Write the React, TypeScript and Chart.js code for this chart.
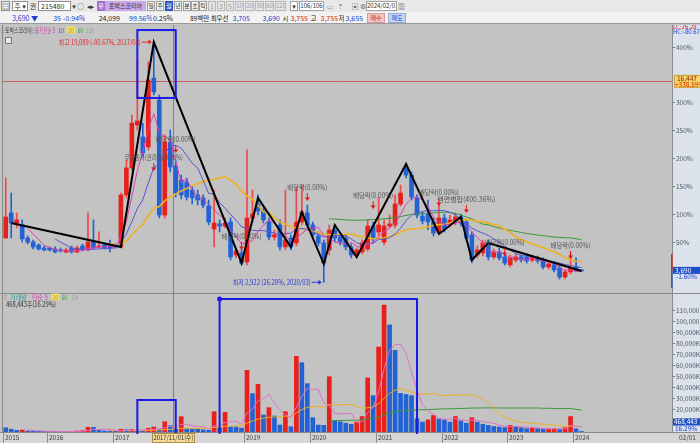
import { useEffect, useRef } from "react";
import { Chart, registerables } from "chart.js";

Chart.register(...registerables);

const FONT = '"Noto Sans CJK KR", "Noto Sans", "DejaVu Sans", sans-serif';
const BASE_PRICE = 3750;
const START_YEAR = 2015;
const START_MONTH = 5;
const PAD_SLOTS = 16;
const PRICE_MIN = 2200;
const PRICE_MAX = 20240;
const VOL_MAX = 126000;

const opens = [5900, 7590, 6910, 6780, 5900, 5630, 5430, 5230, 5230, 5160,
  5100, 4960, 5230, 4960, 5370, 5100, 5630, 5300, 5430, 5430,
  5430, 5300, 8800, 10620, 13510, 12700, 12030, 16670, 15190, 7450,
  12360, 10750, 9810, 9670, 9130, 8800, 8600, 8060, 6510, 6850,
  6710, 6980, 4760, 4890, 4290, 7250, 8190, 7720, 6980, 5970,
  6780, 5300, 5900, 5570, 6980, 7590, 6780, 6040, 5570, 5100,
  6440, 5970, 5900, 5300, 4760, 4960, 5160, 6710, 6310, 5630,
  6710, 6780, 8190, 10620, 10140, 8600, 7380, 7520, 6980, 6310,
  7250, 6850, 6980, 7320, 6980, 6110, 4760, 4890, 5570, 4630,
  4960, 4630, 4090, 4420, 4630, 4630, 4420, 4560, 4420, 3950,
  4090, 3890, 3280, 3620, 3950, 3755];
const highs = [9940, 8930, 7590, 7120, 6040, 5770, 5500, 5370, 5300, 5300,
  5230, 5230, 5370, 5370, 5500, 7590, 7120, 6310, 5570, 5770,
  5500, 8930, 11150, 14180, 17750, 13640, 17750, 19089, 15530, 12840,
  13170, 11150, 10140, 9940, 9400, 9130, 8800, 8460, 9130, 7120,
  7250, 7250, 5230, 5100, 11830, 9130, 8800, 7920, 7250, 6440,
  7120, 9130, 6110, 9340, 9470, 8120, 6980, 6310, 5770, 6780,
  6780, 6240, 6110, 5500, 5230, 5770, 7120, 6980, 8600, 7120,
  7450, 8800, 9470, 10880, 10350, 8800, 7650, 8460, 7250, 8260,
  7520, 7450, 7590, 7520, 7120, 6310, 5370, 5770, 5770, 5160,
  5230, 4830, 4760, 4830, 4760, 4830, 4760, 4690, 4560, 4290,
  4290, 4090, 3750, 4890, 4560, 3755];
const lows = [5880, 5900, 6580, 5630, 5500, 5160, 5100, 5030, 5030, 4890,
  4960, 4890, 4890, 4890, 5030, 5030, 5160, 5230, 5160, 4960,
  5230, 5230, 8600, 10480, 13170, 11360, 11830, 15530, 7250, 7250,
  10350, 8660, 8530, 8460, 8190, 8120, 7920, 6780, 5300, 6310,
  6580, 4420, 4560, 4090, 4090, 6980, 7450, 6910, 5770, 5770,
  5100, 5100, 5100, 5370, 6780, 6580, 5900, 5370, 2922, 4760,
  5630, 5430, 5100, 4560, 4560, 4830, 5030, 5630, 6040, 5430,
  6580, 6580, 8060, 9940, 8460, 7250, 6850, 6440, 6040, 6170,
  6310, 6640, 6780, 6710, 5700, 4220, 4560, 4690, 4420, 4490,
  4420, 4090, 3950, 4290, 4290, 4220, 4290, 4220, 3820, 3820,
  3620, 3140, 3140, 3480, 3620, 3655];
const closes = [7320, 6910, 7120, 5840, 5630, 5300, 5160, 5100, 5100, 4960,
  5030, 5100, 4960, 5230, 5100, 5630, 5230, 5370, 5230, 5230,
  5300, 8800, 10620, 13640, 13780, 11620, 16540, 15730, 7450, 12360,
  10680, 8930, 8800, 8660, 8600, 8460, 8120, 6980, 6910, 6710,
  6910, 4630, 5030, 4220, 7250, 7520, 7720, 7120, 5970, 6110,
  5300, 5770, 5300, 6980, 7650, 6780, 6110, 5570, 4220, 6440,
  5900, 5630, 5300, 4760, 5100, 5570, 6710, 5840, 6780, 6710,
  6850, 8190, 8930, 10140, 8660, 7450, 7050, 6980, 6240, 7250,
  6510, 7120, 7320, 6910, 5900, 4420, 5100, 5570, 4630, 4960,
  4560, 4220, 4560, 4630, 4420, 4360, 4630, 4360, 3950, 4150,
  3750, 3280, 3620, 3890, 3725, 3690];
// monthly volume, thousand shares
const volumes = [3900, 2500, 1500, 1800, 900, 700, 600, 500, 400, 500,
  400, 600, 500, 900, 1200, 4300, 4200, 1500, 900, 800,
  600, 2500, 2000, 2300, 1500, 1200, 3300, 4500, 2500, 9300,
  5700, 3000, 13900, 3000, 2800, 2600, 2000, 1500, 18400, 3800,
  17800, 4800, 4600, 3500, 55900, 34700, 43200, 15400, 22000, 14500,
  6300, 18400, 4800, 68600, 62800, 43800, 13000, 6300, 6000, 50100,
  10000, 9300, 8000, 7000, 9000, 14000, 49000, 33000, 77000, 115000,
  97000, 74000, 35000, 34000, 33000, 12000, 9000, 11000, 15000, 12000,
  11000, 9000, 14000, 10000, 8000, 13000, 9000, 7000, 6000, 5000,
  4500, 4000, 6000, 5000, 4000, 3000, 3500, 3000, 2500, 2800,
  3000, 2500, 4000, 14000, 2876, 468.443];

const zigIdx = [1, 21, 27, 43, 46, 52, 54, 58, 60, 64, 73, 79, 83, 85, 88, 105];
const zigVal = [6910, 5300, 19089, 4220, 8600, 5300, 7650, 4150, 6780, 4620, 10880, 6170, 7320, 4420, 5570, 3680];

const eventNames = ["무상증자(권리락)(0.00%)", "배당락(0.00%)", "배당락(0.00%)", "배당락(0.00%)", "배당락(0.00%)", "배당락(0.00%)", "액면병합(400.36%)", "배당락(0.00%)", "배당락(0.00%)"];
const eventIdx = [27, 31, 43, 55, 67, 79, 84, 91, 103];
const eventPrice = [10680, 11890, 5370, 8660, 8120, 8330, 7850, 4960, 4760];

const pctTicks = [50, 100, 150, 200, 250, 300, 400];
const volTicks = [10000, 20000, 30000, 40000, 50000, 60000, 70000, 80000, 90000, 100000, 110000];

const crossIdx = 30;
const crossPrice = 16447;

const RED = "#e8201c";
const RED_WICK = "#ee4a48";
const BLUE = "#2262d4";
const PANEL_BG = "#c3c3c3";
const AXIS_BG = "#dbe2eb";

const monthLabels: string[] = opens.map((_, k) => {
  const m = START_MONTH - 1 + k;
  const y = START_YEAR + Math.floor(m / 12);
  const mm = (m % 12) + 1;
  return `${y}/${String(mm).padStart(2, "0")}`;
});
const slotLabels = [...monthLabels, ...Array.from({ length: PAD_SLOTS }, (_, k) => `pad${k}`)];

function sma(src: number[], n: number): (number | null)[] {
  return src.map((_, i) => {
    if (i < n - 1) return null;
    let s = 0;
    for (let k = i - n + 1; k <= i; k++) s += src[k];
    return s / n;
  });
}
const fmt = (n: number) => n.toLocaleString("en-US");

function arrowDown(ctx: any, x: number, y: number, color: string) {
  ctx.save();
  ctx.strokeStyle = color;
  ctx.fillStyle = color;
  ctx.lineWidth = 1;
  ctx.beginPath();
  ctx.moveTo(x, y - 4);
  ctx.lineTo(x, y + 1);
  ctx.stroke();
  ctx.beginPath();
  ctx.moveTo(x - 2.5, y + 0.5);
  ctx.lineTo(x + 2.5, y + 0.5);
  ctx.lineTo(x, y + 4);
  ctx.closePath();
  ctx.fill();
  ctx.restore();
}
function arrowRight(ctx: any, x0: number, x1: number, y: number, color: string) {
  ctx.save();
  ctx.strokeStyle = color;
  ctx.fillStyle = color;
  ctx.lineWidth = 1;
  ctx.beginPath();
  ctx.moveTo(x0, y);
  ctx.lineTo(x1 - 3, y);
  ctx.stroke();
  ctx.beginPath();
  ctx.moveTo(x1 - 3.5, y - 2.5);
  ctx.lineTo(x1, y);
  ctx.lineTo(x1 - 3.5, y + 2.5);
  ctx.closePath();
  ctx.fill();
  ctx.restore();
}
function crossX(chart: any) {
  const x = chart.scales.x;
  return Math.round((x.getPixelForValue(crossIdx) + x.getPixelForValue(crossIdx + 1)) / 2) + 0.5;
}
function fitText(ctx: any, t: string, x: number, y: number, w: number) {
  const m = ctx.measureText(t).width;
  if (m > w) ctx.fillText(t, x, y, w);
  else ctx.fillText(t, x, y);
}

const mainPlugin = {
  id: "mainDecor",
  beforeDraw(chart: any) {
    const { ctx, chartArea: a, width, height } = chart;
    ctx.save();
    ctx.fillStyle = PANEL_BG;
    ctx.fillRect(0, 0, a.right, height);
    ctx.fillStyle = AXIS_BG;
    ctx.fillRect(a.right, 0, width - a.right, height);
    ctx.strokeStyle = "#8a8a8a";
    ctx.beginPath();
    ctx.moveTo(a.left - 0.5, 0);
    ctx.lineTo(a.left - 0.5, height);
    ctx.stroke();
    ctx.restore();
  },
  beforeDatasetsDraw(chart: any) {
    const { ctx, chartArea: a, scales } = chart;
    ctx.save();
    ctx.strokeStyle = "#c86060";
    ctx.lineWidth = 1;
    const cy = Math.round(scales.y.getPixelForValue(crossPrice)) + 0.5;
    ctx.beginPath();
    ctx.moveTo(a.left, cy);
    ctx.lineTo(a.right, cy);
    ctx.stroke();
    const cx = crossX(chart);
    ctx.beginPath();
    ctx.moveTo(cx, a.top);
    ctx.lineTo(cx, a.bottom);
    ctx.stroke();
    ctx.restore();
  },
  afterDatasetsDraw(chart: any) {
    const { ctx, scales } = chart;
    const px = (i: number) => scales.x.getPixelForValue(i);
    const py = (p: number) => scales.y.getPixelForValue(p);
    ctx.save();
    ctx.strokeStyle = "#1a1ae6";
    ctx.lineWidth = 2;
    const bx0 = px(24), bx1 = px(31), by0 = py(19900), by1 = py(15330);
    ctx.strokeRect(bx0, by0, bx1 - bx0, by1 - by0);
    ctx.font = `7px ${FONT}`;
    ctx.textAlign = "center";
    ctx.textBaseline = "middle";
    eventNames.forEach((name, k) => {
      const x = px(eventIdx[k]);
      const y = py(eventPrice[k]);
      arrowDown(ctx, x, y, "#e01818");
      ctx.fillStyle = "#555555";
      fitText(ctx, name, x, y - 10, name.length > 12 ? 58 : 40);
    });
    let hiIdx = 0, loIdx = 0;
    highs.forEach((h, i) => { if (h > highs[hiIdx]) hiIdx = i; });
    lows.forEach((l, i) => { if (l < lows[loIdx]) loIdx = i; });
    const last = closes[closes.length - 1];
    const hiPct = ((last / highs[hiIdx] - 1) * 100).toFixed(2);
    const loPct = ((last / lows[loIdx] - 1) * 100).toFixed(2);
    const hx = px(hiIdx), hy = py(highs[hiIdx]);
    ctx.textAlign = "right";
    ctx.fillStyle = "#e02828";
    fitText(ctx, `최고 ${fmt(highs[hiIdx])} (${hiPct}%, ${monthLabels[hiIdx]})`, hx - 13, hy, 82);
    arrowRight(ctx, hx - 12, hx - 2, hy, "#e02828");
    const lx = px(loIdx), ly = py(lows[loIdx]);
    ctx.fillStyle = "#2838d8";
    fitText(ctx, `최저 ${fmt(lows[loIdx])} (${loPct}%, ${monthLabels[loIdx]})`, lx - 13, ly, 78);
    arrowRight(ctx, lx - 12, lx - 2, ly, "#2838d8");
    ctx.restore();
  },
  afterDraw(chart: any) {
    const { ctx, chartArea: a, scales, width } = chart;
    const py = (p: number) => scales.y.getPixelForValue(p);
    ctx.save();
    ctx.textBaseline = "middle";
    ctx.textAlign = "left";
    ctx.font = `7px ${FONT}`;
    const leg: [string, number, number, string][] = [
      ["≡", 1, 3, "#707070"], ["토박스코리아", 5, 27, "#404040"], ["≡", 32, 3, "#707070"], ["종가 단순 5", 35, 20, "#d43cb0"],
      ["10", 58, 6, "#4848d8"], ["20", 68, 6, "#d89000"], ["60", 78, 5, "#2f9a2f"], ["120", 86, 8, "#9a9a9a"],
    ];
    ctx.fillStyle = "#e8e070";
    ctx.fillRect(66.5, 1.5, 9, 7);
    leg.forEach(([t, x, w, c]) => { ctx.fillStyle = c; fitText(ctx, t, x, 5.5, w); });
    ctx.fillStyle = "#e8e8e8";
    ctx.strokeStyle = "#7a7a7a";
    ctx.lineWidth = 1;
    ctx.fillRect(5.5, 12.5, 6, 6);
    ctx.strokeRect(5.5, 12.5, 6, 6);
    const last = closes[closes.length - 1];
    let hi = 0, lo = 0;
    highs.forEach((h, i) => { if (h > highs[hi]) hi = i; });
    lows.forEach((l, i) => { if (l < lows[lo]) lo = i; });
    ctx.font = `6px ${FONT}`;
    ctx.fillStyle = "#e02020";
    ctx.fillText(`LC:${((last / lows[lo] - 1) * 100).toFixed(2)}`, a.right + 1, 2);
    ctx.fillStyle = "#2040d0";
    ctx.fillText(`HC:${((last / highs[hi] - 1) * 100).toFixed(2)}`, a.right + 1, 6.5);
    const cy = py(crossPrice);
    ctx.fillStyle = "#f6d468";
    ctx.strokeStyle = "#c8a040";
    ctx.fillRect(a.right + 2, cy - 6.5, width - a.right - 2, 13);
    ctx.strokeRect(a.right + 2.5, cy - 6, width - a.right - 2, 12);
    ctx.font = `6.5px ${FONT}`;
    ctx.fillStyle = "#8a2000";
    ctx.fillText(fmt(crossPrice), a.right + 5, cy - 3);
    ctx.fillStyle = "#e02000";
    ctx.fillText(`+${((crossPrice / BASE_PRICE - 1) * 100).toFixed(2)}%`, a.right + 3, cy + 3);
    const ly = py(last);
    ctx.fillStyle = RED;
    ctx.fillRect(a.right - 1, ly - 17, 1.5, 17);
    ctx.fillStyle = BLUE;
    ctx.fillRect(a.right - 1, ly, 1.5, 17);
    ctx.fillStyle = "#1f4fc8";
    ctx.fillRect(a.right + 1, ly - 4, width - a.right - 1, 7);
    ctx.fillStyle = "#ffffff";
    ctx.fillText(fmt(last), a.right + 3, ly - 0.5);
    ctx.fillStyle = "#2040d0";
    ctx.fillText(`${((last / BASE_PRICE - 1) * 100).toFixed(2)}%`, a.right + 4, ly + 6);
    ctx.restore();
  },
};

const volPlugin = {
  id: "volDecor",
  beforeDraw(chart: any) {
    const { ctx, chartArea: a, width, height } = chart;
    ctx.save();
    ctx.fillStyle = PANEL_BG;
    ctx.fillRect(0, 0, a.right, a.bottom);
    ctx.fillStyle = AXIS_BG;
    ctx.fillRect(a.right, 0, width - a.right, a.bottom);
    ctx.fillStyle = "#d6d6d6";
    ctx.fillRect(0, a.bottom, width, height - a.bottom);
    ctx.strokeStyle = "#8a8a8a";
    ctx.lineWidth = 1;
    ctx.beginPath();
    ctx.moveTo(0, 0.5);
    ctx.lineTo(width, 0.5);
    ctx.moveTo(0, a.bottom + 0.5);
    ctx.lineTo(width, a.bottom + 0.5);
    ctx.moveTo(a.left - 0.5, 0);
    ctx.lineTo(a.left - 0.5, a.bottom);
    ctx.stroke();
    ctx.restore();
  },
  beforeDatasetsDraw(chart: any) {
    const { ctx, chartArea: a } = chart;
    ctx.save();
    ctx.strokeStyle = "#c86060";
    ctx.lineWidth = 1;
    const cx = crossX(chart);
    ctx.beginPath();
    ctx.moveTo(cx, a.top);
    ctx.lineTo(cx, a.bottom);
    ctx.stroke();
    ctx.restore();
  },
  afterDatasetsDraw(chart: any) {
    const { ctx, scales, chartArea: a } = chart;
    const px = (i: number) => scales.x.getPixelForValue(i);
    const py = (v: number) => scales.y.getPixelForValue(v);
    ctx.save();
    ctx.strokeStyle = "#1a1ae6";
    ctx.lineWidth = 2;
    const boxes = [[24, 31, 29000, false], [39, 75, 120600, true]] as [number, number, number, boolean][];
    boxes.forEach(([i0, i1, v1, dot]) => {
      const x0 = px(i0), x1 = px(i1), y0 = py(v1);
      ctx.beginPath();
      ctx.moveTo(x0, a.bottom + 2);
      ctx.lineTo(x0, y0);
      ctx.lineTo(x1, y0);
      ctx.lineTo(x1, a.bottom + 2);
      ctx.stroke();
      if (dot) {
        ctx.fillStyle = "#1a1ae6";
        ctx.beginPath();
        ctx.arc(x0, y0, 2.5, 0, Math.PI * 2);
        ctx.fill();
      }
    });
    ctx.restore();
  },
  afterDraw(chart: any) {
    const { ctx, chartArea: a, scales, width, height } = chart;
    const px = (i: number) => scales.x.getPixelForValue(i);
    ctx.save();
    ctx.textBaseline = "middle";
    ctx.textAlign = "left";
    ctx.font = `7px ${FONT}`;
    const leg: [string, number, number, string][] = [
      ["≡", 4, 3, "#808080"], ["거래량", 10, 17, "#3a9a9a"], ["단순 5", 32, 16, "#d43cb0"], ["20", 53, 5, "#d89000"], ["60", 62, 5, "#2f9a2f"], ["120", 71, 7, "#9a9a9a"],
    ];
    ctx.fillStyle = "#e8e070";
    ctx.fillRect(51.5, 0.5, 8, 7);
    leg.forEach(([t, x, w, c]) => { ctx.fillStyle = c; fitText(ctx, t, x, 4, w); });
    const lastVol = volumes[volumes.length - 1];
    const prevVol = volumes[volumes.length - 2];
    const shares = Math.round(lastVol * 1000);
    ctx.fillStyle = "#303030";
    fitText(ctx, `${fmt(shares)}주(${((lastVol / prevVol) * 100).toFixed(2)}%)`, 6, 11, 50);
    const vy = Math.round(scales.y.getPixelForValue(9000));
    ctx.fillStyle = "#1f4fc8";
    ctx.fillRect(a.right + 1, vy - 3.5, width - a.right - 1, 7);
    ctx.font = `6.5px ${FONT}`;
    ctx.fillStyle = "#ffffff";
    ctx.fillText(fmt(shares), a.right + 2, vy);
    ctx.fillStyle = "#2040d0";
    ctx.fillText(`${((lastVol / prevVol) * 100).toFixed(2)}%`, a.right + 3, vy + 6.5);
    const slot = px(1) - px(0);
    const ly = a.bottom + (height - a.bottom) / 2 + 0.5;
    ctx.strokeStyle = "#8c8c8c";
    ctx.lineWidth = 1;
    monthLabels.forEach((lab, i) => {
      if (i !== 0 && !lab.endsWith("/01")) return;
      const bx = Math.round(px(i) - slot / 2) + 0.5;
      ctx.beginPath();
      ctx.moveTo(bx, a.bottom + 1);
      ctx.lineTo(bx, height);
      ctx.stroke();
      ctx.fillStyle = "#404040";
      ctx.fillText(lab.slice(0, 4), bx + 1.5, ly);
    });
    ctx.fillStyle = "#404040";
    ctx.fillText("02/01", a.right + 7, ly);
    const cx = crossX(chart);
    ctx.fillStyle = "#f4da98";
    ctx.strokeStyle = "#b08a40";
    ctx.fillRect(cx - 21, a.bottom + 1, 42, height - a.bottom - 1);
    ctx.strokeRect(cx - 21, a.bottom + 1.5, 42, height - a.bottom - 2);
    ctx.textAlign = "center";
    ctx.fillStyle = "#303030";
    fitText(ctx, `${monthLabels[crossIdx]}/01(수)`, cx, ly, 40);
    ctx.restore();
  },
};

function rightAxis(min: number, max: number, tickVals: number[], label: (v: number) => string) {
  return {
    position: "right",
    min,
    max,
    afterFit: (s: any) => { s.width = 28; s.paddingTop = 0; s.paddingBottom = 0; },
    afterBuildTicks: (s: any) => { s.ticks = tickVals.map((v) => ({ value: v })); },
    ticks: {
      callback: (v: any) => label(Number(v)),
      font: { family: FONT, size: 6.5 },
      color: "#4f5a66",
      padding: 1,
      autoSkip: false,
    },
    grid: { drawOnChartArea: false, drawTicks: true, tickLength: 3, color: "#7a7a7a" },
    border: { display: true, color: "#8c8c8c" },
  };
}

function mainConfig(): any {
  const isUp = closes.map((c, i) => c >= opens[i]);
  const bodies = opens.map((o, i) => {
    const c = closes[i];
    if (Math.abs(o - c) < 60) {
      const m = (o + c) / 2;
      return [m - 30, m + 30];
    }
    return [Math.min(o, c), Math.max(o, c)];
  });
  const wicks = lows.map((l, i) => [l, highs[i]]);
  const zig: (number | null)[] = monthLabels.map(() => null);
  zigIdx.forEach((ix, k) => { zig[ix] = zigVal[k]; });
  const line = (data: any, color: string, w: number, order: number, extra: any = {}) => ({
    type: "line", data, borderColor: color, borderWidth: w, pointRadius: 0, fill: false, tension: 0, order, ...extra,
  });
  return {
    type: "bar",
    data: {
      labels: slotLabels,
      datasets: [
        { type: "bar", data: wicks, backgroundColor: isUp.map((u) => (u ? RED_WICK : BLUE)), barThickness: 1, grouped: false, order: 6 },
        { type: "bar", data: bodies, backgroundColor: isUp.map((u) => (u ? RED : BLUE)), barThickness: 4, grouped: false, order: 5 },
        line(sma(closes, 60), "#3a9a3a", 1, 4),
        line(sma(closes, 20), "#f0b020", 1.6, 3),
        line(sma(closes, 10), "#5555d8", 1, 2),
        line(sma(closes, 5), "#e040b0", 1, 1),
        line(zig, "#000000", 2, 0, { spanGaps: true }),
      ],
    },
    options: {
      animation: false,
      responsive: false,
      events: [],
      layout: { padding: { left: 3, right: 0, top: 0, bottom: 0 }, autoPadding: false },
      plugins: { legend: { display: false }, tooltip: { enabled: false } },
      scales: {
        x: { type: "category", display: false, offset: true },
        y: rightAxis(PRICE_MIN, PRICE_MAX, pctTicks.map((p) => BASE_PRICE * (1 + p / 100)), (v) => `${Math.round((v / BASE_PRICE - 1) * 100)}%`),
      },
    },
    plugins: [mainPlugin],
  };
}

function volConfig(): any {
  const colors = volumes.map((v, i) => (i > 0 && v >= volumes[i - 1] ? RED : BLUE));
  const line = (data: any, color: string, order: number) => ({
    type: "line", data, borderColor: color, borderWidth: 1, pointRadius: 0, fill: false, tension: 0, order,
  });
  return {
    type: "bar",
    data: {
      labels: slotLabels,
      datasets: [
        { type: "bar", data: volumes, backgroundColor: colors, barThickness: 4, grouped: false, order: 5 },
        line(sma(volumes, 60), "#3a9a3a", 3),
        line(sma(volumes, 20), "#f0b020", 2),
        line(sma(volumes, 5), "#e070c8", 1),
      ],
    },
    options: {
      animation: false,
      responsive: false,
      events: [],
      layout: { padding: { left: 3, right: 0, top: 0, bottom: 11 }, autoPadding: false },
      plugins: { legend: { display: false }, tooltip: { enabled: false } },
      scales: {
        x: { type: "category", display: false, offset: true },
        y: rightAxis(0, VOL_MAX, volTicks, (v) => `${fmt(v)}K`),
      },
    },
    plugins: [volPlugin],
  };
}

type TB = { x: number; y: number; w: number; t: string; c?: string; bg?: string; bd?: string; al?: "left" | "right" | "center"; fs?: number };
const R1 = 1;
const R2 = 13;
const toolbarItems: TB[] = [
  { x: 1, y: R1, w: 9, t: "▤", bd: "#909090", bg: "#f4f4f4" },
  { x: 12, y: R1, w: 16, t: "주 ▾", bd: "#909090", bg: "#ffffff" },
  { x: 29, y: R1, w: 8, t: "권" },
  { x: 38, y: R1, w: 33, t: "215480", bd: "#909090", bg: "#ffffff", al: "left" },
  { x: 71, y: R1, w: 6, t: "▾" },
  { x: 77, y: R1, w: 7, t: "○" },
  { x: 85, y: R1, w: 11, t: "◂▸" },
  { x: 97, y: R1, w: 8, t: "유", bg: "#a070d0", c: "#ffffff", fs: 6 },
  { x: 105, y: R1, w: 41, t: "토박스코리아", bg: "#c8a8ec", c: "#303030", fs: 6 },
  { x: 147, y: R1, w: 8, t: "일", bd: "#a0a0a0", bg: "#f6f6f6", fs: 6 },
  { x: 156, y: R1, w: 8, t: "주", bd: "#a0a0a0", bg: "#f6f6f6", fs: 6 },
  { x: 165, y: R1, w: 8, t: "월", bd: "#3050c0", bg: "#3a5cc8", c: "#ffffff", fs: 6 },
  { x: 174, y: R1, w: 8, t: "년", bd: "#a0a0a0", bg: "#f6f6f6", fs: 6 },
  { x: 183, y: R1, w: 8, t: "분", bd: "#a0a0a0", bg: "#f6f6f6", fs: 6 },
  { x: 191, y: R1, w: 8, t: "초", bd: "#a0a0a0", bg: "#f6f6f6", fs: 6 },
  { x: 199, y: R1, w: 8, t: "틱", bd: "#a0a0a0", bg: "#f6f6f6", fs: 6 },
  { x: 208, y: R1, w: 8, t: "1", bd: "#b8b8b8", bg: "#e6e6e6", c: "#9a9a9a" },
  { x: 217, y: R1, w: 8, t: "3", bd: "#b8b8b8", bg: "#e6e6e6", c: "#9a9a9a" },
  { x: 226, y: R1, w: 8, t: "5", bd: "#b8b8b8", bg: "#e6e6e6", c: "#9a9a9a" },
  { x: 235, y: R1, w: 9, t: "10", bd: "#b8b8b8", bg: "#e6e6e6", c: "#9a9a9a", fs: 6 },
  { x: 245, y: R1, w: 9, t: "20", bd: "#b8b8b8", bg: "#e6e6e6", c: "#9a9a9a", fs: 6 },
  { x: 255, y: R1, w: 9, t: "30", bd: "#b8b8b8", bg: "#e6e6e6", c: "#9a9a9a", fs: 6 },
  { x: 265, y: R1, w: 9, t: "60", bd: "#b8b8b8", bg: "#e6e6e6", c: "#9a9a9a", fs: 6 },
  { x: 275, y: R1, w: 11, t: "120", bd: "#b8b8b8", bg: "#e6e6e6", c: "#9a9a9a", fs: 6 },
  { x: 290, y: R1, w: 8, t: "▾", bd: "#a0a0a0", bg: "#ffffff" },
  { x: 299, y: R1, w: 25, t: "106/106", bd: "#a0a0a0", bg: "#ffffff", fs: 6 },
  { x: 326, y: R1, w: 8, t: "▭", c: "#909090" },
  { x: 336, y: R1, w: 9, t: "⇡", c: "#707070" },
  { x: 351, y: R1, w: 8, t: "▣", c: "#707070" },
  { x: 360, y: R1, w: 6, t: "⚙", c: "#707070" },
  { x: 366, y: R1, w: 31, t: "2024/02/01", bd: "#a0a0a0", bg: "#ffffff", fs: 6 },
  { x: 398, y: R1, w: 7, t: "▦", c: "#707070" },
  { x: 3, y: R2, w: 35, t: "3,690 ▼", c: "#2040d0", al: "right" },
  { x: 48, y: R2, w: 13, t: "35", c: "#2040d0", al: "right" },
  { x: 63, y: R2, w: 22, t: "-0.94%", c: "#2040d0", al: "right" },
  { x: 95, y: R2, w: 25, t: "24,099", c: "#202020", al: "right" },
  { x: 129, y: R2, w: 23, t: "99.56%", c: "#2040d0", al: "right" },
  { x: 153, y: R2, w: 20, t: "0.25%", c: "#202020", al: "right" },
  { x: 188, y: R2, w: 42, t: "89백만 최우선", c: "#202020", al: "left", fs: 6.5 },
  { x: 230, y: R2, w: 20, t: "3,705", c: "#2040d0", al: "right" },
  { x: 260, y: R2, w: 20, t: "3,690", c: "#2040d0", al: "right" },
  { x: 282, y: R2, w: 7, t: "시", c: "#202020", fs: 6.5 },
  { x: 288, y: R2, w: 20, t: "3,755", c: "#e02020", al: "right" },
  { x: 310, y: R2, w: 7, t: "고", c: "#202020", fs: 6.5 },
  { x: 318, y: R2, w: 20, t: "3,755", c: "#e02020", al: "right" },
  { x: 338, y: R2, w: 7, t: "저", c: "#202020", fs: 6.5 },
  { x: 343, y: R2, w: 20, t: "3,655", c: "#2040d0", al: "right" },
  { x: 367, y: R2, w: 18, t: "매수", bg: "#f2c4c4", bd: "#d89a9a", c: "#c02020", fs: 6 },
  { x: 388, y: R2, w: 18, t: "매도", bg: "#c4d4f2", bd: "#9aaad8", c: "#2040c0", fs: 6 },
];

function Toolbar() {
  return (
    <>
      <div style={{ position: "absolute", left: 0, top: 0, width: 700, height: 12, background: "#e8e8e8" }} />
      <div style={{ position: "absolute", left: 0, top: 12, width: 700, height: 12, background: "#f2f2f2", borderBottom: "1px solid #9a9a9a", boxSizing: "border-box" }} />
      {toolbarItems.map((it, k) => (
        <div
          key={k}
          style={{
            position: "absolute",
            left: it.x,
            top: it.y,
            width: it.w,
            height: 10,
            lineHeight: it.bd ? "8px" : "10px",
            fontSize: it.fs ?? 7,
            textAlign: it.al ?? "center",
            color: it.c ?? "#303030",
            background: it.bg ?? "transparent",
            border: it.bd ? `1px solid ${it.bd}` : "none",
            boxSizing: "border-box",
            whiteSpace: "nowrap",
            overflow: "hidden",
            paddingLeft: it.al === "left" ? 2 : 0,
            fontFamily: FONT,
          }}
        >
          {it.t}
        </div>
      ))}
    </>
  );
}

export default function App() {
  const mainRef = useRef<HTMLCanvasElement>(null);
  const volRef = useRef<HTMLCanvasElement>(null);
  useEffect(() => {
    const main = new Chart(mainRef.current as HTMLCanvasElement, mainConfig());
    const vol = new Chart(volRef.current as HTMLCanvasElement, volConfig());
    return () => {
      main.destroy();
      vol.destroy();
    };
  }, []);
  return (
    <div style={{ position: "fixed", left: 0, top: 0, width: 700, height: 443, background: PANEL_BG, overflow: "hidden", fontFamily: FONT }}>
      <Toolbar />
      <canvas ref={mainRef} width={700} height={268} style={{ position: "absolute", left: 0, top: 25, width: 700, height: 268 }} />
      <canvas ref={volRef} width={700} height={150} style={{ position: "absolute", left: 0, top: 293, width: 700, height: 150 }} />
    </div>
  );
}
